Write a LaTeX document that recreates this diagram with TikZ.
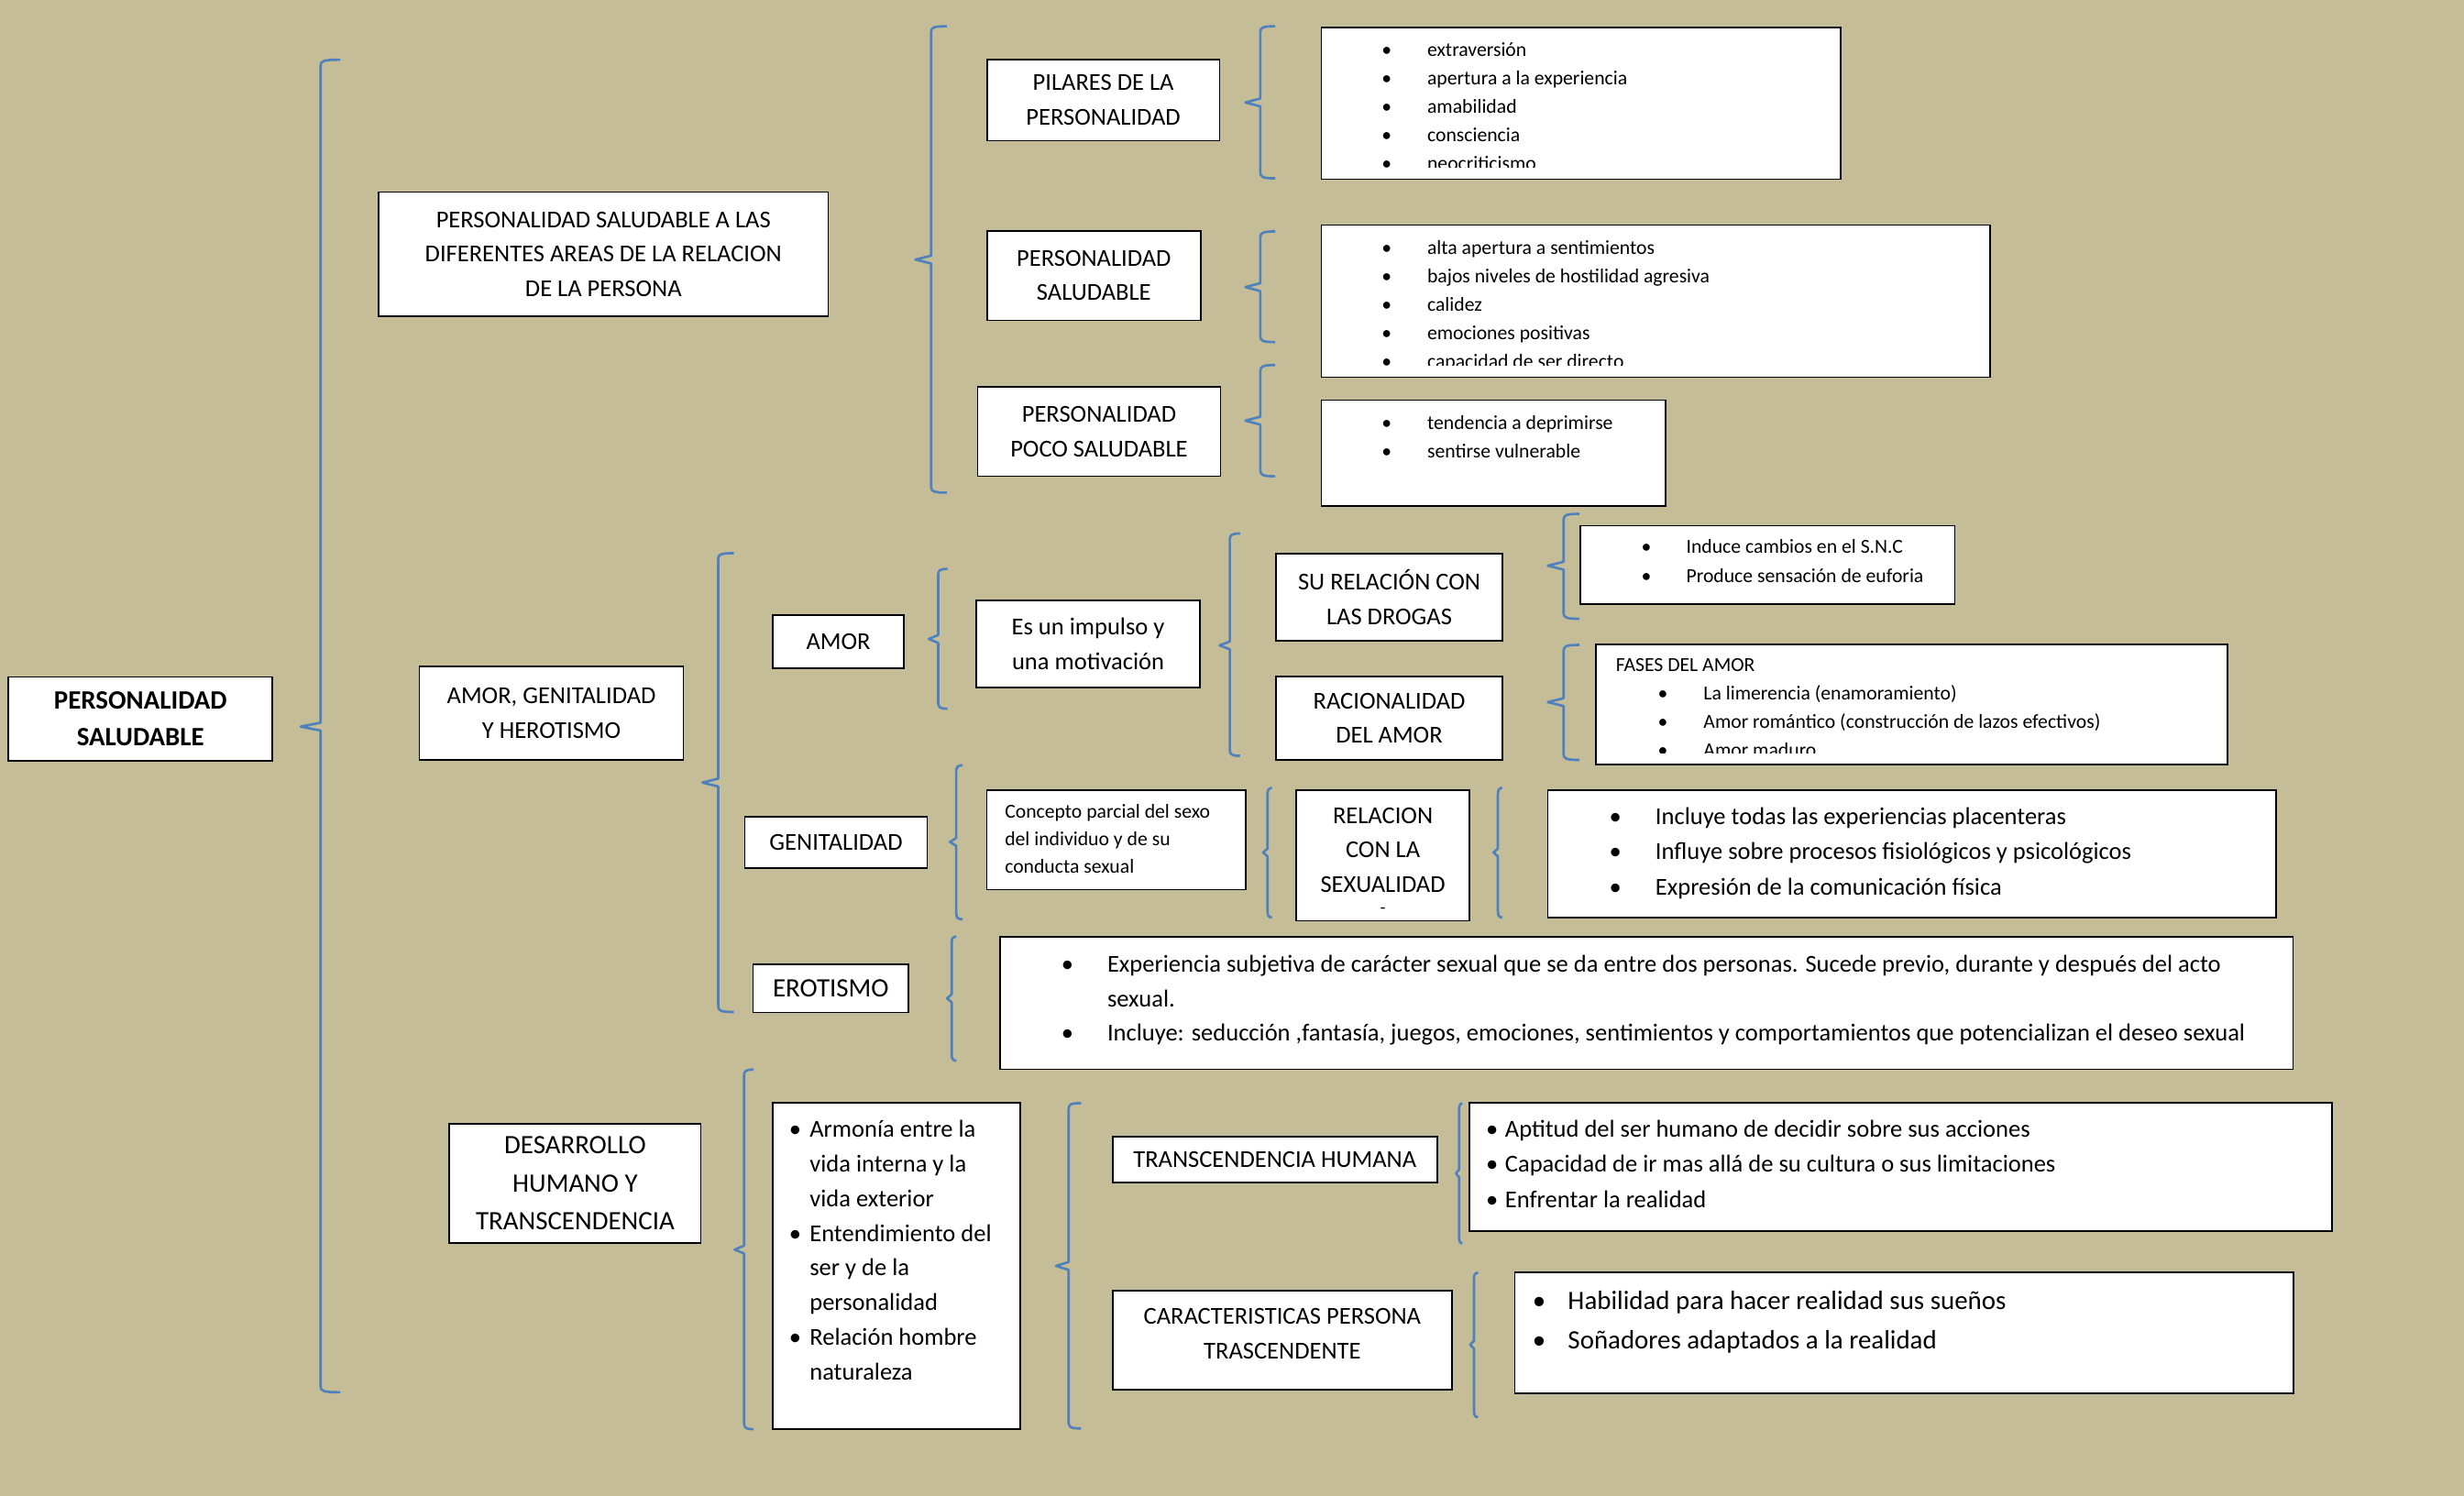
\documentclass[tikz,border=0pt]{standalone}
\usepackage{fontspec}
\setmainfont{Carlito}

\definecolor{paper}{RGB}{196,189,152}
\definecolor{braceblue}{RGB}{79,129,189}

% left bracket: spine x, top y, tip y, bottom y, hook length
\newcommand{\wordbrace}[5]{%
  \draw[bracepen] (#1+#5,#2) .. controls (#1+1,#2) and (#1,#2+1) .. (#1,#2+4)
    -- (#1,#3-2.5) -- (#1-#5,#3) -- (#1,#3+2.5)
    -- (#1,#4-4) .. controls (#1,#4-1) and (#1+1,#4) .. (#1+#5,#4);%
}

\begin{document}
\begin{tikzpicture}[x=0.025cm, y=-0.025cm,
    box/.style={draw=black, fill=white, line width=0.7pt, inner sep=0pt, align=center,
      font=\fontsize{11}{15.6}\selectfont},
    bracepen/.style={draw=braceblue, line width=1.1pt, line join=round},
    smalltext/.style={inner sep=0pt, anchor=base west, font=\fontsize{9}{12}\selectfont},
    bodytext/.style={smalltext, font=\fontsize{11}{14}\selectfont},
    bigtext/.style={smalltext, font=\fontsize{12}{15}\selectfont}]

   \fill[paper] (0,0) rectangle (1568,952);
   \useasboundingbox (0,0) rectangle (1568,952);

   \node[box, minimum width=4.2cm, minimum height=1.33cm,
     font=\bfseries\fontsize{12}{16.9}\selectfont] (root) at (89.4,457.4) {PERSONALIDAD\\SALUDABLE};
   \wordbrace{204}{38}{462.4}{886}{12.7}

   % personalidad saludable
   \node[box, minimum width=7.15cm, minimum height=1.98cm] (areas) at (384,161.8)
     {PERSONALIDAD SALUDABLE A LAS\\DIFERENTES AREAS DE LA RELACION\\DE LA PERSONA};
   \wordbrace{592.5}{16.7}{165.2}{313.5}{10}

   \node[box, minimum width=3.7cm, minimum height=1.29cm] (pilares) at (702.1,63.7) {PILARES DE LA\\PERSONALIDAD};
   \node[box, minimum width=3.4cm, minimum height=1.42cm] (sana) at (696.1,175.4) {PERSONALIDAD\\SALUDABLE};
   \node[box, minimum width=3.86cm, minimum height=1.42cm] (poco) at (699.4,274.65) {PERSONALIDAD\\POCO SALUDABLE};

   \wordbrace{802}{16.7}{65.2}{113.5}{9.5}
   \wordbrace{802}{147.3}{182.7}{217.7}{9.5}
   \wordbrace{802}{232.3}{267.7}{303.1}{9.5}

   \node[box, minimum width=8.26cm, minimum height=2.41cm] (pilareslist) at (1006.2,65.85) {};
   \begin{scope}
     \clip (841,17.7) rectangle (1171.3,106.2);
     \foreach \txt [count=\i] in {extraversión, apertura a la experiencia, amabilidad, consciencia, neocriticismo} {
       \node[smalltext] (pil\i) at (908,36+18*\i-18) {\txt};
       \node[smalltext, anchor=base] (pildot\i) at (882.5,36+18*\i-18) {•};
     }
   \end{scope}

   \node[box, minimum width=10.635cm, minimum height=2.42cm] (sanalist) at (1053.7,191.65) {};
   \begin{scope}
     \clip (841,143.3) rectangle (1266.4,232.2);
     \foreach \txt [count=\i] in {alta apertura a sentimientos, bajos niveles de hostilidad agresiva, calidez, emociones positivas, capacidad de ser directo} {
       \node[smalltext] (san\i) at (908,161.6+18.1*\i-18.1) {\txt};
       \node[smalltext, anchor=base] (sandot\i) at (882.5,161.6+18.1*\i-18.1) {•};
     }
   \end{scope}

   \node[box, minimum width=5.47cm, minimum height=1.68cm] (pocolist) at (950.35,288.25) {};
   \foreach \txt [count=\i] in {tendencia a deprimirse, sentirse vulnerable} {
     \node[smalltext] (poc\i) at (908,273.1+18.1*\i-18.1) {\txt};
     \node[smalltext, anchor=base] (pocdot\i) at (882.5,273.1+18.1*\i-18.1) {•};
   }

   % amor, genitalidad y herotismo
   \node[box, minimum width=4.2cm, minimum height=1.49cm] (amorgh) at (350.9,453.75) {AMOR, GENITALIDAD\\Y HEROTISMO};
   \wordbrace{457}{352}{498}{644}{10}

   \node[box, minimum width=2.08cm, minimum height=0.85cm] (amor) at (533.45,408.3) {AMOR};
   \wordbrace{597}{362}{406.6}{451}{6}
   \node[box, minimum width=3.56cm, minimum height=1.385cm] (impulso) at (692.45,409.7) {Es un impulso y\\una motivación};
   \wordbrace{782.6}{339.5}{410.7}{481}{6.5}
   \node[box, minimum width=3.6cm, minimum height=1.38cm] (drogas) at (884.05,379.95) {SU RELACIÓN CON\\LAS DROGAS};
   \node[box, minimum width=3.6cm, minimum height=1.33cm] (razon) at (884.05,457) {RACIONALIDAD\\DEL AMOR};
   \wordbrace{995}{327}{360}{393.8}{10}
   \wordbrace{995}{410.4}{446.8}{483.6}{10}

   \node[box, minimum width=5.955cm, minimum height=1.245cm] (drogaslist) at (1124.9,359.4) {};
   \foreach \txt [count=\i] in {Induce cambios en el S.N.C, Produce sensación de euforia} {
     \node[smalltext] (dro\i) at (1072.8,352.3+18.3*\i-18.3) {\txt};
     \node[smalltext, anchor=base] (drodot\i) at (1047.7,352.3+18.3*\i-18.3) {•};
   }

   \node[box, minimum width=10.045cm, minimum height=1.915cm] (fases) at (1216.7,448.2) {};
   \node[smalltext] (fasestitle) at (1028,427.5) {FASES DEL AMOR};
   \begin{scope}
     \clip (1015.8,409.9) rectangle (1417.6,479.4);
     \foreach \txt [count=\i] in {La limerencia (enamoramiento), Amor romántico (construcción de lazos efectivos), Amor maduro} {
       \node[smalltext] (fas\i) at (1083.8,445.6+17.9*\i-17.9) {\txt};
       \node[smalltext, anchor=base] (fasdot\i) at (1058.2,445.6+17.9*\i-17.9) {•};
     }
   \end{scope}

   \node[box, minimum width=2.905cm, minimum height=0.82cm] (genital) at (532,536) {GENITALIDAD};
   \wordbrace{608.5}{487}{535.8}{585}{4}
   \node[box, minimum width=4.115cm, minimum height=1.58cm] (concepto) at (710.3,534.6) {};
   \foreach \txt [count=\i] in {Concepto parcial del sexo, del individuo y de su, conducta sexual} {
     \node[smalltext] (con\i) at (639.2,520.8+17.3*\i-17.3) {\txt};
   }
   \wordbrace{806.6}{501.4}{542.5}{583.9}{2.8}
   \node[box, minimum width=2.75cm, minimum height=2.075cm] (relsex) at (879.95,544.5) {};
   \node[inner sep=0pt, align=center, font=\fontsize{11}{15.6}\selectfont] (relsextxt) at (880,541) {RELACION\\CON LA\\SEXUALIDAD};
   \node[inner sep=0pt, font=\fontsize{8}{9}\selectfont] (relsexdash) at (880,579.6) {-};
   \wordbrace{953.2}{501.4}{542.5}{583.9}{2.8}

   \node[box, minimum width=11.58cm, minimum height=2.02cm] (placer) at (1216.7,543.4) {};
   \foreach \txt [count=\i] in {Incluye todas las experiencias placenteras, Influye sobre procesos fisiológicos y psicológicos, Expresión de la comunicación física} {
     \node[bodytext] (pla\i) at (1053.2,524.6+22.5*\i-22.5) {\txt};
     \node[bodytext, anchor=base] (pladot\i) at (1028,524.6+22.5*\i-22.5) {•};
   }

   \node[box, minimum width=2.475cm, minimum height=0.76cm, font=\fontsize{12}{15}\selectfont] (erotismo) at (528.7,629) {EROTISMO};
   \wordbrace{605.6}{596}{635.3}{675}{3}
   \node[box, minimum width=20.565cm, minimum height=2.105cm] (erotlist) at (1047.7,638.4) {};
   \node[bodytext] (ero1) at (704.4,618.8) {Experiencia subjetiva de carácter sexual que se da entre dos personas. Sucede previo, durante y después del acto};
   \node[bodytext] (ero2) at (704.4,640.6) {sexual.};
   \node[bodytext] (ero3) at (704.4,662.4) {Incluye: seducción ,fantasía, juegos, emociones, sentimientos y comportamientos que potencializan el deseo sexual};
   \node[bodytext, anchor=base] (erodot1) at (679.3,618.8) {•};
   \node[bodytext, anchor=base] (erodot3) at (679.3,662.4) {•};

   % desarrollo humano
   \node[box, minimum width=4cm, minimum height=1.9cm, font=\fontsize{12}{17.1}\selectfont] (desarrollo) at (366,753)
     {DESARROLLO\\HUMANO Y\\TRANSCENDENCIA};
   \wordbrace{473.5}{680.6}{795.2}{909.5}{6}

   \node[box, minimum width=3.94cm, minimum height=5.19cm] (armonia) at (570.55,805.7) {};
   \foreach \txt [count=\i] in {Armonía entre la, vida interna y la, vida exterior, Entendimiento del, ser y de la, personalidad, Relación hombre, naturaleza} {
     \node[bodytext] (arm\i) at (515,723.7+22.07*\i-22.07) {\txt};
   }
   \foreach \i in {1,4,7} {
     \node[bodytext, anchor=base] (armdot\i) at (506,723.7+22.07*\i-22.07) {•};
   }
   \wordbrace{680}{702}{805.6}{909}{8}

   \node[box, minimum width=5.16cm, minimum height=0.73cm] (humana) at (811.25,737.9) {TRANSCENDENCIA HUMANA};
   \node[box, minimum width=5.395cm, minimum height=1.57cm] (caract) at (815.9,852.9) {};
   \node[inner sep=0pt, align=center, font=\fontsize{11}{15.6}\selectfont] (caracttxt) at (816,848.6)
     {CARACTERISTICAS PERSONA\\TRASCENDENTE};
   \wordbrace{928.5}{702}{746.7}{791.4}{2}
   \wordbrace{938}{809.7}{855.8}{902}{2.5}

   \node[box, minimum width=13.72cm, minimum height=2.04cm] (humanalist) at (1209.35,742.75) {};
   \foreach \txt [count=\i] in {Aptitud del ser humano de decidir sobre sus acciones, Capacidad de ir mas allá de su cultura o sus limitaciones, Enfrentar la realidad} {
     \node[bodytext] (hum\i) at (957.5,723.6+22.4*\i-22.4) {\txt};
     \node[bodytext, anchor=base] (humdot\i) at (949.5,723.6+22.4*\i-22.4) {•};
   }

   \node[box, minimum width=12.39cm, minimum height=1.925cm] (caractlist) at (1211.75,848.2) {};
   \foreach \txt [count=\i] in {Habilidad para hacer realidad sus sueños, Soñadores adaptados a la realidad} {
     \node[bigtext] (car\i) at (997.5,833.3+24.9*\i-24.9) {\txt};
     \node[bigtext, anchor=base] (cardot\i) at (979.5,833.3+24.9*\i-24.9) {•};
   }

\end{tikzpicture}
\end{document}
